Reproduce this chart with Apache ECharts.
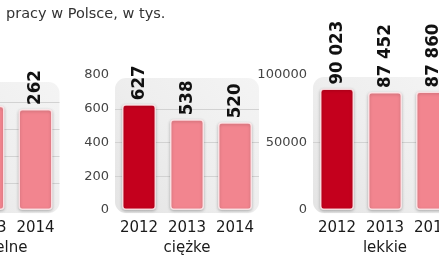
<!DOCTYPE html>
<html>
<head>
<meta charset="utf-8">
<script src="https://cdn.jsdelivr.net/npm/echarts@6/dist/echarts.min.js"></script>
<style>
html,body{margin:0;padding:0;background:#fff;}
#c{width:439px;height:274px;}
</style>
</head>
<body>
<div id="c"></div>
<script>
// ---- data ----
var categories = ['2012', '2013', '2014'];
var panelNames = ['śmiertelne', 'ciężke', 'lekkie'];
var fatal = [330, 270, 262];
var serious = [627, 538, 520];
var light = [90023, 87452, 87860];
var axisMax = [350, 800, 100000];
var axisInterval = [70, 200, 50000];
var titleText = 'pracy w Polsce, w tys.';

// ---- layout ----
var gridLefts = [-84.5, 115, 313];
var gridWidth = 144, gridTop = 75, gridHeight = 135;
var panelTop = [82, 78, 77];
var FONT = '"DejaVu Sans", sans-serif';
var LABEL_FONT = '"Liberation Sans Narrow", "DejaVu Sans Condensed", "Liberation Sans", sans-serif';

var seriesData = [fatal, serious, light];
var darkRed = '#c4001d', pink = '#f2858f';

function fmt(v) { return String(v).replace(/\B(?=(\d{3})+(?!\d))/g, ' '); }

var grids = [], xAxes = [], yAxes = [], series = [], graphics = [];
for (var i = 0; i < 3; i++) {
  grids.push({ left: gridLefts[i], top: gridTop, width: gridWidth, height: gridHeight, outerBoundsMode: 'none', containLabel: false });
  graphics.push({
    type: 'rect', z: -10, silent: true,
    shape: { x: gridLefts[i], y: panelTop[i], width: gridWidth, height: gridTop + gridHeight + 3 - panelTop[i], r: 11 },
    style: {
      fill: new echarts.graphic.LinearGradient(0, 1, 1, 0, [
        { offset: 0, color: '#e4e4e4' },
        { offset: 0.5, color: '#eeeeee' },
        { offset: 1, color: '#f4f4f4' }
      ])
    }
  });
  xAxes.push({
    gridIndex: i, type: 'category', data: categories,
    axisLine: { show: false }, axisTick: { show: false },
    axisLabel: { interval: 0, hideOverlap: false, color: '#1a1a1a', fontSize: 15, fontFamily: FONT, margin: 11 },
    name: panelNames[i], nameLocation: 'middle', nameGap: 31,
    nameTextStyle: { color: '#1a1a1a', fontSize: 15, fontFamily: FONT }
  });
  yAxes.push({
    gridIndex: i, type: 'value', min: 0, max: axisMax[i], interval: axisInterval[i],
    axisLine: { show: false }, axisTick: { show: false },
    axisLabel: { show: i > 0, color: '#444', fontSize: 13, fontFamily: FONT, margin: 6,
      formatter: function (v) { return String(v); } },
    splitLine: { show: true, showMinLine: false, showMaxLine: false, lineStyle: { color: '#d2d2d2', width: 1 } }
  });
  series.push({
    type: 'bar', xAxisIndex: i, yAxisIndex: i, barWidth: 34,
    data: seriesData[i].map(function (v, k) {
      return { value: v, itemStyle: { color: k === 0 ? darkRed : pink } };
    }),
    itemStyle: {
      borderColor: 'rgba(255,235,237,0.85)', borderWidth: 1.5, borderRadius: 3,
      shadowBlur: 3, shadowColor: 'rgba(0,0,0,0.25)', shadowOffsetY: 1
    },
    label: {
      show: true, position: 'top', distance: 4, rotate: 90,
      align: 'left', verticalAlign: 'middle',
      fontFamily: LABEL_FONT, fontWeight: 'bold', fontSize: 18.5, color: '#111',
      formatter: function (p) { return fmt(p.value); }
    }
  });
}

var chart = echarts.init(document.getElementById('c'), null, { renderer: 'canvas' });
chart.setOption({
  animation: false,
  backgroundColor: '#fff',
  title: {
    text: titleText, left: 1, top: 2,
    textStyle: { fontSize: 14.5, fontWeight: 'normal', color: '#333', fontFamily: FONT }
  },
  graphic: graphics,
  grid: grids, xAxis: xAxes, yAxis: yAxes, series: series
});
</script>
</body>
</html>
